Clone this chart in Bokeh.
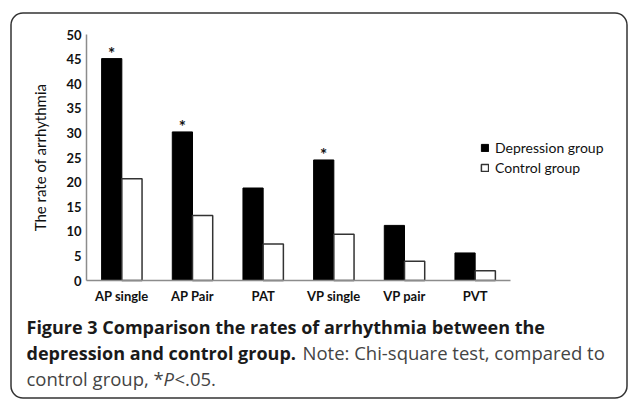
from bokeh.plotting import figure
from bokeh.models import (ColumnDataSource, Range1d, FixedTicker, Legend, LegendItem,
                          Label, BoxAnnotation)
from bokeh.transform import dodge
from bokeh.core.properties import value
from bokeh.embed import file_html
from bokeh.resources import INLINE

categories = ["AP single", "AP Pair", "PAT", "VP single", "VP pair", "PVT"]
depression = [45.1, 30.2, 18.8, 24.5, 11.2, 5.6]
control = [20.7, 13.2, 7.4, 9.4, 3.9, 2.0]
significance = ["*", "*", "", "*", "", ""]
y_ticks = [0, 5, 10, 15, 20, 25, 30, 35, 40, 45, 50]

idx = list(range(len(categories)))
src = ColumnDataSource(dict(idx=idx, cat=categories, dep=depression, ctl=control, sig=significance))

# ---- layout (pixels) ----
W, H = 629, 402
PX_LEFT, PX_RIGHT = 86, 510      # plot area x extent
PY_ZERO, PY_TOP = 280, 34        # y=0 and y=50 pixel rows
YMAX = 50
ppu_y = (PY_ZERO - PY_TOP) / YMAX
ppu_x = (PX_RIGHT - PX_LEFT) / len(categories)
x0 = -0.5 - PX_LEFT / ppu_x
x1 = len(categories) - 0.5 + (W - PX_RIGHT) / ppu_x
y0 = -(H - PY_ZERO) / ppu_y
y1 = YMAX + PY_TOP / ppu_y

p = figure(x_range=Range1d(x0, x1), y_range=Range1d(y0, y1), title=None,
           width=W, height=H, output_backend="svg", toolbar_location=None,
           min_border=0, min_border_left=0, min_border_right=0,
           min_border_top=0, min_border_bottom=0)
p.outline_line_color = None
p.grid.visible = False
p.background_fill_color = "white"
p.border_fill_color = "white"

bw = 0.286
r1 = p.vbar(x=dodge("idx", -bw / 2), top="dep", width=bw, source=src,
            fill_color="black", line_color="black", line_width=1)
r2 = p.vbar(x=dodge("idx", bw / 2), top="ctl", width=bw, source=src,
            fill_color="white", line_color="#333333", line_width=1.5)
p.text(x=dodge("idx", -bw / 2), y="dep", text="sig", source=src,
       text_align="center", text_baseline="bottom", text_font=value("Lato"),
       text_font_size="17px", text_font_style="bold", text_color="#111111", y_offset=5)

for ax in (p.xaxis[0], p.yaxis[0]):
    ax.axis_line_color = "#8c8c8c"
    ax.axis_line_width = 1.5
    ax.major_tick_line_color = None
    ax.minor_tick_line_color = None
    ax.major_tick_out = 0
    ax.major_tick_in = 0
    ax.major_label_text_font = "Lato"
    ax.major_label_text_font_size = "13px"
    ax.major_label_text_font_style = "bold"
    ax.major_label_text_color = "#111111"

p.xaxis.fixed_location = 0
p.xaxis.bounds = (-0.5, len(categories) - 0.5)
p.xaxis.ticker = FixedTicker(ticks=idx)
p.xaxis.major_label_overrides = {i: c for i, c in zip(idx, categories)}
p.xaxis.major_label_standoff = 7

p.yaxis.fixed_location = -0.5
p.yaxis.bounds = (0, YMAX)
p.yaxis.ticker = FixedTicker(ticks=y_ticks)
p.yaxis.major_label_standoff = 5
p.yaxis.axis_label = "The rate of arrhythmia"
p.yaxis.axis_label_text_font = "Lato"
p.yaxis.axis_label_text_font_size = "15px"
p.yaxis.axis_label_text_font_style = "normal"
p.yaxis.axis_label_text_color = "#111111"
p.yaxis.axis_label_standoff = 14

legend = Legend(items=[LegendItem(label="Depression group", renderers=[r1]),
                       LegendItem(label="Control group", renderers=[r2])],
                location=(480, H - 176), padding=0, margin=0, spacing=3,
                glyph_width=9, glyph_height=9, label_standoff=6, label_height=14,
                label_text_font="Lato", label_text_font_size="14px", label_text_color="#111111",
                border_line_color=None, background_fill_alpha=0)
p.add_layout(legend, "center")

# caption, in screen units (x from left, y up from bottom of the canvas)
def lab(text, px, py_baseline, size, style="normal", color="#222222"):
    p.add_layout(Label(x=px, y=H - py_baseline, x_units="screen", y_units="screen",
                       text=text, text_font="Open Sans", text_font_size=size,
                       text_font_style=style, text_color=color, text_baseline="alphabetic"))

BOLD, REG = "18px", "18.5px"
DARK, GREY = "#1a1a1a", "#444444"
lab("Figure 3 Comparison the rates of arrhythmia between the", 26, 326, BOLD, "bold", DARK)
lab("depression and control group.", 26, 352, BOLD, "bold", DARK)
lab("Note: Chi-square test, compared to", 302, 352, REG, "normal", GREY)
lab("control group, *", 26, 378, REG, "normal", GREY)
lab("P", 163, 378, REG, "italic", GREY)
lab("<.05.", 174, 378, REG, "normal", GREY)

p.add_layout(BoxAnnotation(left=10.5, right=626.5, top=H - 12.5, bottom=H - 397.5,
                           left_units="screen", right_units="screen",
                           top_units="screen", bottom_units="screen",
                           fill_alpha=0, line_color="#333333", line_alpha=1.0, line_width=1.5,
                           border_radius=12, level="overlay"))

open("out.html", "w").write(file_html(p, INLINE))
